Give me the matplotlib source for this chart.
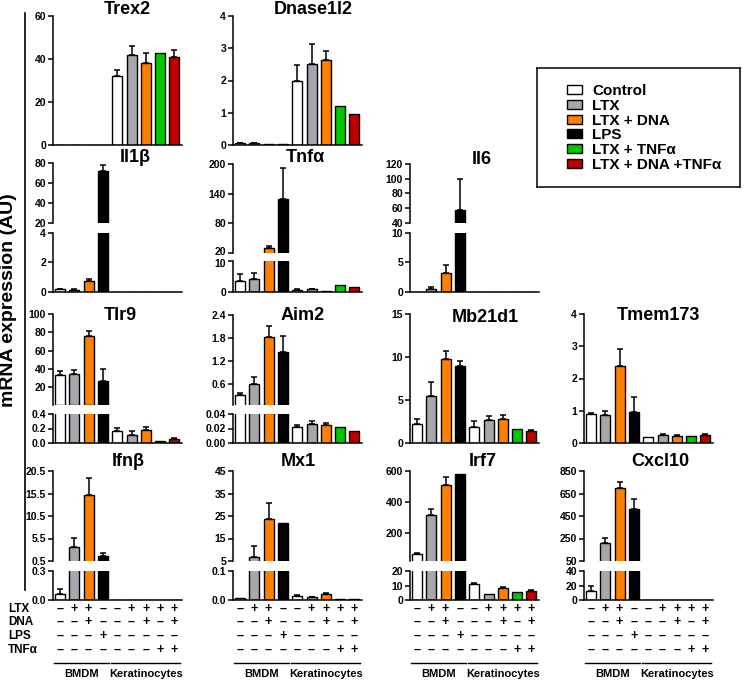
import numpy as np
import matplotlib.pyplot as plt
import matplotlib.transforms as mtransforms
from matplotlib.lines import Line2D
from matplotlib.patches import Patch

plt.rcParams['font.family'] = ['Liberation Sans', 'DejaVu Sans']
plt.rcParams['font.weight'] = 'bold'
plt.rcParams['axes.linewidth'] = 1.1

W, H = 750, 699

# groups / colours
legend_labels = ['Control', 'LTX', 'LTX + DNA', 'LPS', 'LTX + TNFα', 'LTX + DNA +TNFα']
legend_colors = ['white', '#a6a6ac', '#ff8000', 'black', '#00c800', '#c00000']
bar_colors = ['white', '#a6a6ac', '#ff8000', 'black',
              'white', '#a6a6ac', '#ff8000', '#00c800', '#c00000']

# treatment table under the bars
row_names = ['LTX', 'DNA', 'LPS', 'TNFα']
ltx_signs = ['–', '+', '+', '–', '–', '+', '+', '+', '+']
dna_signs = ['–', '–', '+', '–', '–', '–', '+', '–', '+']
lps_signs = ['–', '–', '–', '+', '–', '–', '–', '–', '–']
tnf_signs = ['–', '–', '–', '–', '–', '–', '–', '+', '+']

# values: 4 BMDM bars then 5 keratinocyte bars
trex2_mean = [0, 0, 0, 0, 32, 42, 38, 43, 41]
trex2_err = [0, 0, 0, 0, 3, 4, 5, 0, 3]
dnase_mean = [0.05, 0.06, 0.03, 0.03, 2.0, 2.5, 2.65, 1.2, 0.95]
dnase_err = [0.01, 0.01, 0, 0, 0.48, 0.62, 0.27, 0, 0]
il1b_mean = [0.2, 0.15, 0.75, 72, 0.01, 0.01, 0.01, 0.01, 0.01]
il1b_err = [0.03, 0.02, 0.12, 6, 0, 0, 0, 0, 0]
tnfa_mean = [3.6, 4.3, 30, 130, 0.8, 0.9, 0.3, 2.2, 1.5]
tnfa_err = [2.2, 1.7, 5, 62, 0.1, 0.1, 0, 0, 0]
il6_mean = [0.05, 0.5, 3.3, 58, 0, 0, 0, 0, 0]
il6_err = [0, 0.3, 1.3, 42, 0, 0, 0, 0, 0]
tlr9_mean = [33, 34, 76, 27, 0.16, 0.11, 0.18, 0.03, 0.06]
tlr9_err = [5, 4.5, 5, 13, 0.05, 0.05, 0.04, 0, 0.01]
aim2_mean = [0.31, 0.6, 1.82, 1.42, 0.022, 0.026, 0.025, 0.022, 0.017]
aim2_err = [0.05, 0.18, 0.28, 0.42, 0.003, 0.004, 0.002, 0, 0]
mb21d1_mean = [2.2, 5.5, 9.8, 8.9, 1.9, 2.7, 2.8, 1.6, 1.4]
mb21d1_err = [0.6, 1.6, 0.9, 0.6, 0.7, 0.4, 0.4, 0, 0.1]
tmem173_mean = [0.9, 0.88, 2.38, 0.97, 0.2, 0.25, 0.22, 0.22, 0.25]
tmem173_err = [0.02, 0.12, 0.52, 0.45, 0, 0.04, 0.02, 0, 0.02]
ifnb_mean = [0.06, 3.7, 15.2, 1.6, 0.004, 0.004, 0.004, 0.004, 0.004]
ifnb_err = [0.05, 1.9, 3.8, 0.7, 0, 0, 0, 0, 0]
mx1_mean = [0.008, 6.8, 23.6, 21.9, 0.015, 0.01, 0.022, 0.005, 0.005]
mx1_err = [0, 4.9, 7.2, 0, 0.002, 0.002, 0.003, 0, 0]
irf7_mean = [65, 316, 508, 580, 11, 4, 8.5, 5.5, 6.5]
irf7_err = [8, 38, 52, 0, 0.5, 0, 0.5, 0, 0.5]
cxcl10_mean = [12, 210, 700, 512, 0.5, 0.5, 0.5, 0.5, 0.5]
cxcl10_err = [8, 45, 52, 90, 0, 0, 0, 0, 0]

col_x = [53, 233, 410, 584]
panel_w = 129
x = np.arange(9)
colors = np.array(bar_colors)


def px_box(x0, ytop, x1, ybot):
    return [x0 / W, 1 - ybot / H, (x1 - x0) / W, (ybot - ytop) / H]


def draw_panel(fig, mean, err, col, segments, nudge=None):
    mean = np.array(mean, float)
    err = np.array(err, float)
    x0 = col_x[col]
    axes = []
    for k, (ylo, yhi, ticks, labels, ptop, pbot) in enumerate(segments):
        ax = fig.add_axes(px_box(x0, ptop, x0 + panel_w, pbot))
        ax.patch.set_alpha(0)
        # upper segments only show the bars that reach into them
        show = mean > ylo if k > 0 else np.ones(9, bool)
        ax.bar(x[show], mean[show], width=0.7, color=colors[show], edgecolor='black',
               linewidth=1.0)
        # only the error bars whose bar ends inside this segment
        m = (err > 0) & (mean >= ylo) & (mean < yhi)
        if m.any():
            ax.errorbar(x[m], mean[m], yerr=[np.zeros(m.sum()), err[m]], fmt='none',
                        ecolor='black', elinewidth=1.1, capsize=2.5, capthick=1.1)
        ax.set_xlim(-0.49, 8.53)
        ax.set_ylim(ylo, yhi)
        ax.spines['top'].set_visible(False)
        ax.spines['right'].set_visible(False)
        if k > 0:
            ax.spines['bottom'].set_visible(False)
        ax.set_xticks([])
        ax.set_yticks(ticks)
        ax.set_yticklabels(labels if labels else ['%g' % t for t in ticks])
        ax.tick_params(axis='y', direction='out', length=3.5, width=1.1, pad=1.5,
                       labelsize=7.5)
        axes.append(ax)
    if nudge:
        for k, li, dy in nudge:
            lab = axes[k].get_yticklabels()[li]
            lab.set_transform(lab.get_transform() +
                              mtransforms.ScaledTranslation(0, dy / 72, fig.dpi_scale_trans))
    return axes


fig = plt.figure(figsize=(7.5, 6.99), dpi=100)

draw_panel(fig, trex2_mean, trex2_err, 0, [(0, 60, [0, 20, 40, 60], None, 16, 145)])
draw_panel(fig, dnase_mean, dnase_err, 1, [(0, 4, [0, 1, 2, 3, 4], None, 16, 145)])
draw_panel(fig, il1b_mean, il1b_err, 0, [(0, 4, [0, 2, 4], None, 233, 292),
                                          (20, 80, [20, 40, 60, 80], None, 163, 223)])
draw_panel(fig, tnfa_mean, tnfa_err, 1, [(0, 10, [0, 10], None, 261, 292),
                                          (20, 200, [20, 80, 140, 200], None, 164, 253)],
           nudge=[(0, 1, -1.5), (1, 0, 1.5)])
draw_panel(fig, il6_mean, il6_err, 2, [(0, 10, [0, 5, 10], None, 233, 292),
                                        (40, 120, [40, 60, 80, 100, 120], None, 164, 223)])
draw_panel(fig, tlr9_mean, tlr9_err, 0, [(0, 0.4, [0, 0.2, 0.4], ['0.0', '0.2', '0.4'], 414, 443),
                                          (0.4, 100, [20, 40, 60, 80, 100], None, 314, 405)])
draw_panel(fig, aim2_mean, aim2_err, 1, [(0, 0.04, [0, 0.02, 0.04], ['0.00', '0.02', '0.04'], 414, 443),
                                          (0.04, 2.4, [0.6, 1.2, 1.8, 2.4], None, 315, 405)])
draw_panel(fig, mb21d1_mean, mb21d1_err, 2, [(0, 15, [0, 5, 10, 15], None, 314, 443)])
draw_panel(fig, tmem173_mean, tmem173_err, 3, [(0, 4, [0, 1, 2, 3, 4], None, 314, 443)])
bottom_axes = []
bottom_axes.append(draw_panel(fig, ifnb_mean, ifnb_err, 0, [(0, 0.3, [0, 0.3], ['0.0', '0.3'], 571, 600),
                   (0.5, 20.5, [0.5, 5.5, 10.5, 15.5, 20.5], None, 471, 561)])[0])
bottom_axes.append(draw_panel(fig, mx1_mean, mx1_err, 1, [(0, 0.1, [0, 0.1], ['0.0', '0.1'], 571, 600),
                   (5, 45, [5, 15, 25, 35, 45], None, 471, 561)])[0])
bottom_axes.append(draw_panel(fig, irf7_mean, irf7_err, 2, [(0, 20, [0, 10, 20], None, 571, 600),
                   (20, 600, [200, 400, 600], None, 471, 561)])[0])
bottom_axes.append(draw_panel(fig, cxcl10_mean, cxcl10_err, 3, [(0, 40, [0, 20, 40], None, 571, 600),
                   (50, 850, [50, 250, 450, 650, 850], None, 471, 561)])[0])

# titles
titles = [('Trex2', 127, 10), ('Dnase1l2', 313, 10),
          ('Il1β', 135, 158), ('Tnfα', 305, 158), ('Il6', 482, 159),
          ('Tlr9', 120, 316), ('Aim2', 303, 316), ('Mb21d1', 485, 317), ('Tmem173', 658, 315),
          ('Ifnβ', 128, 462), ('Mx1', 298, 462), ('Irf7', 483, 462), ('Cxcl10', 660, 462)]
for t, tx, ty in titles:
    fig.text(tx / W, 1 - ty / H, t, ha='center', va='center', fontsize=13, fontweight='bold')

# y label and bracket line
fig.text(9 / W, 1 - 300 / H, 'mRNA expression (AU)', rotation=90, ha='center', va='center',
         fontsize=14, fontweight='bold')
fig.add_artist(Line2D([25 / W, 25 / W], [1 - 13 / H, 1 - 590 / H], color='black', lw=1.2))

# treatment table
sign_rows = [ltx_signs, dna_signs, lps_signs, tnf_signs]
row_y = [609, 622, 636, 650]
for name, ry in zip(row_names, row_y):
    fig.text(8 / W, 1 - ry / H, name, ha='left', va='center', fontsize=8.5, fontweight='bold')
for ax in bottom_axes:
    tr = mtransforms.blended_transform_factory(ax.transData, fig.transFigure)
    for signs, ry in zip(sign_rows, row_y):
        for i, s in enumerate(signs):
            ax.text(i, 1 - ry / H, s, transform=tr, ha='center', va='center', fontsize=9,
                    fontweight='bold', clip_on=False)
    ax.plot([-0.4, 3.4], [1 - 663 / H] * 2, transform=tr, color='black', lw=1, clip_on=False)
    ax.plot([3.6, 8.4], [1 - 663 / H] * 2, transform=tr, color='black', lw=1, clip_on=False)
    ax.text(1.5, 1 - 674 / H, 'BMDM', transform=tr, ha='center', va='center', fontsize=8,
            fontweight='bold')
    ax.text(6, 1 - 674 / H, 'Keratinocytes', transform=tr, ha='center', va='center', fontsize=8,
            fontweight='bold')

# legend in a framed box
lax = fig.add_axes(px_box(537, 68, 740, 187))
lax.set_xticks([])
lax.set_yticks([])
for sp in lax.spines.values():
    sp.set_linewidth(1.1)
handles = [Patch(facecolor=c, edgecolor='black', linewidth=1.0) for c in legend_colors]
lax.legend(handles, legend_labels, loc='upper left', bbox_to_anchor=(30 / 203, 1 - 16 / 119),
           frameon=False, borderpad=0, borderaxespad=0, handlelength=1.0,
           handleheight=0.55, handletextpad=0.65, labelspacing=0.05,
           prop={'weight': 'bold', 'size': 11})

fig.savefig('out.png', dpi=100)
